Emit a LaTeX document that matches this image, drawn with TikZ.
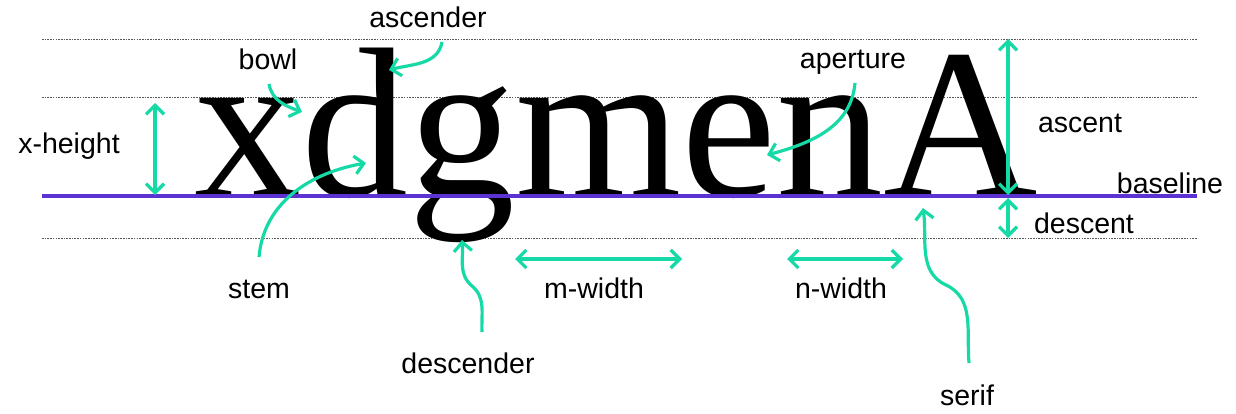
\documentclass[tikz,border=0pt]{standalone}
\usepackage{fontspec}
\setmainfont{Liberation Serif}
\setsansfont{Liberation Sans}
\usetikzlibrary{arrows.meta}
\definecolor{mint}{RGB}{22,218,165}
\definecolor{baseblue}{RGB}{92,50,210}

\begin{document}
\begin{tikzpicture}[x=1pt,y=1pt,
  >={Straight Barb[length=9pt,width=18pt]},
  lbl/.style={font=\sffamily\fontsize{28.5}{28}\selectfont,anchor=base,inner sep=0pt},
  guide/.style={black!65,dash pattern=on 1.6pt off 1.1pt,line width=0.8pt},
  ptr/.style={mint,line width=3.2pt,->},
  dbl/.style={mint,line width=3.2pt,<->}]
\useasboundingbox (0,0) rectangle (1236,413);

\foreach \y/\n in {374/top,316/mid,175/bot}
{ \coordinate (\n-l) at (42,\y);
  \coordinate (\n-r) at (1197,\y);
  \draw[guide] (\n-l) -- (\n-r); }
\coordinate (base-l) at (42,217);
\coordinate (base-r) at (1197,217);

\node[font=\fontsize{214}{214}\selectfont,anchor=base west,inner sep=0pt] (word) at (194,217) {xdgmenA};
\draw[baseblue,line width=3.2pt] (base-l) -- (base-r);

\node[lbl] (ascender)  at (428,385)  {ascender};
\node[lbl] (bowl)      at (268,343)  {bowl};
\node[lbl] (xheight)   at (69,259)   {x-height};
\node[lbl] (stem)      at (259,115)  {stem};
\node[lbl] (descender) at (468,40)   {descender};
\node[lbl] (mwidth)    at (594,115)  {m-width};
\node[lbl] (nwidth)    at (841,115)  {n-width};
\node[lbl] (serif)     at (967,8)    {serif};
\node[lbl] (aperture)  at (853,344)  {aperture};
\node[lbl] (ascent)    at (1080,280) {ascent};
\node[lbl] (baseline)  at (1170,220) {baseline};
\node[lbl] (descent)   at (1084,180) {descent};

\coordinate (xh-t)  at (155,310);  \coordinate (xh-b)  at (155,218);
\coordinate (asc-t) at (1008,374); \coordinate (asc-b) at (1008,218);
\coordinate (dsc-t) at (1008,215); \coordinate (dsc-b) at (1008,175);
\coordinate (mw-l)  at (515,154);  \coordinate (mw-r)  at (682,154);
\coordinate (nw-l)  at (787,154);  \coordinate (nw-r)  at (903,154);

\coordinate (ascender-s) at (442,371); \coordinate (ascender-t) at (389,343);
\coordinate (bowl-s)     at (269,329); \coordinate (bowl-t)     at (302,301);
\coordinate (stem-s)     at (259,156); \coordinate (stem-t)     at (366,250);
\coordinate (aperture-s) at (855,330); \coordinate (aperture-t) at (767,258);
\coordinate (desc-s) at (482,81);  \coordinate (desc-k) at (472,127);  \coordinate (desc-t) at (462,173);
\coordinate (serif-s) at (969,50); \coordinate (serif-k) at (946,128); \coordinate (serif-t) at (923,205);

\path[dbl]
(xh-t) edge (xh-b)
(asc-t) edge (asc-b)
(dsc-t) edge (dsc-b)
(mw-l) edge (mw-r)
(nw-l) edge (nw-r);

\path[ptr]
(ascender-s) edge[out=-100,in=15]  (ascender-t)
(bowl-s)     edge[out=-80,in=160]  (bowl-t)
(stem-s)     edge[out=85,in=190]   (stem-t)
(aperture-s) edge[out=-95,in=15]   (aperture-t);

\draw[ptr] (desc-s) to[out=93,in=-40] (desc-k) to[out=140,in=-85] (desc-t);
\draw[ptr] (serif-s) to[out=95,in=-25] (serif-k) to[out=155,in=-82] (serif-t);
\end{tikzpicture}
\end{document}
